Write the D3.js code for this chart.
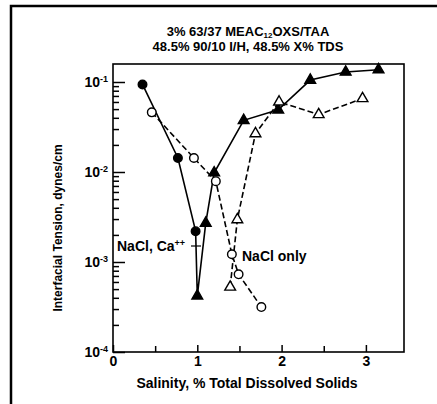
<!DOCTYPE html>
<html><head><meta charset="utf-8">
<script src="https://cdn.jsdelivr.net/npm/d3@7"></script>
<style>
html,body{margin:0;padding:0;background:#fff;}
svg{display:block;}
text{font-family:"Liberation Sans",Arial,Helvetica,sans-serif;font-weight:bold;fill:#000;}
</style></head>
<body>
<script>
// ---- data ----
const caX = [0.35, 0.77, 0.98, 1.0, 1.1, 1.2, 1.55, 1.96, 2.34, 2.76, 3.15];
const caY = [0.094, 0.0143, 0.0022, 0.00042, 0.0027, 0.0098, 0.0375, 0.049, 0.105, 0.129, 0.137];
const caShape = ["circle","circle","circle","tri","tri","tri","tri","tri","tri","tri","tri"];
const naCircX = [0.46, 0.96, 1.22, 1.41, 1.49, 1.76];
const naCircY = [0.046, 0.0143, 0.0079, 0.00122, 0.00073, 0.000316];
const naTriX = [1.39, 1.475, 1.69, 1.97, 2.44, 2.96];
const naTriY = [0.000527, 0.00296, 0.0267, 0.06, 0.0435, 0.0655];
const xMajor = [0, 1, 2, 3];
const xMinor = [0.5, 1.5, 2.5];
const yMajorExp = [-1, -2, -3, -4];
const titleLine1 = ["3% 63/37 MEAC", "12", "OXS/TAA"];
const titleLine2 = "48.5% 90/10 I/H, 48.5% X% TDS";
const xLabel = "Salinity, % Total Dissolved Solids";
const yLabel = "Interfacial Tension, dynes/cm";

const W = 437, H = 404;
const L = 113, R = 404, T = 64, B = 352;

const svg = d3.select("body").append("svg").attr("width", W).attr("height", H);

// outer frame (left and top edges visible)
svg.append("rect").attr("x", 11).attr("y", 6).attr("width", 600).attr("height", 600)
  .attr("fill", "none").attr("stroke", "#000").attr("stroke-width", 2.5);

const x = d3.scaleLinear().domain([0, (R - L) / 84.3]).range([L, R]);
const y = d3.scaleLog().domain([1e-4, Math.pow(10, -4 + (B - T) / 90)]).range([B, T]);

// plot box
svg.append("rect").attr("x", L).attr("y", T).attr("width", R - L).attr("height", B - T)
  .attr("fill", "none").attr("stroke", "#000").attr("stroke-width", 1.6);

// y minor ticks
const yMinor = [];
yMajorExp.forEach(e => { for (let k = 2; k <= 9; k++) { const v = k * Math.pow(10, e); if (v < y.domain()[1]) yMinor.push(v); } });
const gyMin = svg.append("g").attr("transform", `translate(${L},0)`)
  .call(d3.axisLeft(y).tickValues(yMinor).tickSize(-6).tickFormat(""));
const gyMaj = svg.append("g").attr("transform", `translate(${L},0)`)
  .call(d3.axisLeft(y).tickValues(yMajorExp.map(e => Math.pow(10, e))).tickSize(-12).tickFormat(""));
[gyMin, gyMaj].forEach(g => { g.select(".domain").remove(); g.selectAll("line").attr("stroke", "#000").attr("stroke-width", 1.5); });

// y major labels
yMajorExp.forEach(e => {
  const t = svg.append("text").attr("x", L - 5).attr("y", y(Math.pow(10, e)) + 5)
    .attr("text-anchor", "end").style("font-size", "14px");
  t.append("tspan").text("10");
  t.append("tspan").attr("dy", -5).style("font-size", "9px").text("-" + (-e));
});

// x ticks
const gxMin = svg.append("g").attr("transform", `translate(0,${B})`)
  .call(d3.axisBottom(x).tickValues(xMinor).tickSize(-6).tickFormat(""));
const gxMaj = svg.append("g").attr("transform", `translate(0,${B})`)
  .call(d3.axisBottom(x).tickValues(xMajor).tickSize(-7).tickFormat(d3.format("d")).tickPadding(6));
[gxMin, gxMaj].forEach(g => { g.select(".domain").remove(); g.selectAll("line").attr("stroke", "#000").attr("stroke-width", 1.5); });
gxMaj.selectAll("text").attr("dy", "0.71em").attr("y", 4)
  .style("font-size", "14px").style("font-family", '"Liberation Sans",Arial,sans-serif').style("font-weight", "bold").attr("fill", "#000");

// lines
const line = d3.line().x(d => x(d[0])).y(d => y(d[1]));
const caPts = caX.map((v, i) => [v, caY[i], caShape[i]]);
const ncPts = naCircX.map((v, i) => [v, naCircY[i]]);
const ntPts = naTriX.map((v, i) => [v, naTriY[i]]);
svg.append("path").attr("d", line(caPts)).attr("fill", "none").attr("stroke", "#000").attr("stroke-width", 1.6);
svg.append("path").attr("d", line(ncPts)).attr("fill", "none").attr("stroke", "#000").attr("stroke-width", 1.6).attr("stroke-dasharray", "6,3");
svg.append("path").attr("d", line(ntPts)).attr("fill", "none").attr("stroke", "#000").attr("stroke-width", 1.6).attr("stroke-dasharray", "6,3");

// markers
const tri = d3.symbol().type(d3.symbolTriangle).size(50);
function drawMarker(d, filled) {
  const fill = filled ? "#000" : "#fff";
  if (d[2] === "circle" || d[2] === "ocircle") {
    svg.append("circle").attr("cx", x(d[0])).attr("cy", y(d[1])).attr("r", 4.3)
      .attr("fill", fill).attr("stroke", "#000").attr("stroke-width", 1.4);
  } else {
    svg.append("path").attr("d", tri()).attr("transform", `translate(${x(d[0])},${y(d[1])})`)
      .attr("fill", fill).attr("stroke", "#000").attr("stroke-width", 1.4);
  }
}
caPts.forEach(d => drawMarker(d, true));
ncPts.forEach(d => drawMarker([d[0], d[1], "ocircle"], false));
ntPts.forEach(d => drawMarker([d[0], d[1], "tri"], false));

// annotations
const a1 = svg.append("text").attr("x", 117).attr("y", 251).style("font-size", "14px");
a1.append("tspan").text("NaCl, Ca");
a1.append("tspan").attr("dy", -5).style("font-size", "9px").text("++");
svg.append("line").attr("x1", 191).attr("x2", 201).attr("y1", 246).attr("y2", 246).attr("stroke", "#000").attr("stroke-width", 1.2);
svg.append("text").attr("x", 242).attr("y", 261).style("font-size", "14px").text("NaCl only");

// titles
const t1 = svg.append("text").attr("x", 248).attr("y", 36).attr("text-anchor", "middle").style("font-size", "13px");
t1.append("tspan").text(titleLine1[0]);
t1.append("tspan").attr("dy", 2).style("font-size", "8px").text(titleLine1[1]);
t1.append("tspan").attr("dy", -2).text(titleLine1[2]);
svg.append("text").attr("x", 248).attr("y", 51).attr("text-anchor", "middle").style("font-size", "13px").text(titleLine2);

// axis labels
svg.append("text").attr("x", 247).attr("y", 388).attr("text-anchor", "middle").style("font-size", "14px").text(xLabel);
svg.append("text").attr("transform", "translate(62,228) rotate(-90)").attr("text-anchor", "middle").style("font-size", "12px").text(yLabel);
</script>
</body></html>
